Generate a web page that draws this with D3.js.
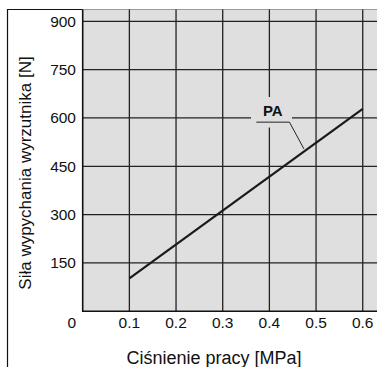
<!DOCTYPE html>
<html><head><meta charset="utf-8">
<script src="https://cdn.jsdelivr.net/npm/d3@7"></script>
<style>html,body{margin:0;padding:0;background:#fff;overflow:hidden}</style>
</head><body>
<svg id="c" width="377" height="367"></svg>
<script>
const pressure = [0.1, 0.6];
const force = [102, 628];
const xTicks = [0.1, 0.2, 0.3, 0.4, 0.5, 0.6];
const yTicks = [150, 300, 450, 600, 750, 900];
const seriesName = "PA";
const xTitle = "Ciśnienie pracy [MPa]";
const yTitle = "Siła wypychania wyrzutnika [N]";

const svg = d3.select("#c");
const font = "'Liberation Sans', Arial, Helvetica, sans-serif";
const x = d3.scaleLinear().domain([0, 0.631]).range([82.7, 377.2]);
const y = d3.scaleLinear().domain([0, 900]).range([311.3, 21.3]);
const plotTop = 9.5;

// outer frame
svg.append("line").attr("x1", 7.5).attr("x2", 83).attr("y1", 9.5).attr("y2", 9.5)
  .attr("stroke", "#111").attr("stroke-width", 1.2);
svg.append("line").attr("x1", 7.5).attr("x2", 7.5).attr("y1", 9).attr("y2", 367)
  .attr("stroke", "#111").attr("stroke-width", 1.2);

// plot background
svg.append("rect").attr("x", x(0)).attr("y", plotTop)
  .attr("width", x.range()[1] - x(0)).attr("height", y(0) - plotTop)
  .attr("fill", "#dfdfdf");
svg.append("line").attr("x1", x(0)).attr("x2", 377).attr("y1", plotTop).attr("y2", plotTop)
  .attr("stroke", "#999").attr("stroke-width", 1);

// grid
const g = svg.append("g").attr("stroke", "#222").attr("stroke-width", 1.3);
g.selectAll(".v").data(xTicks).join("line")
  .attr("x1", d => x(d)).attr("x2", d => x(d)).attr("y1", plotTop).attr("y2", y(0));
g.selectAll(".h").data(yTicks).join("line")
  .attr("x1", x(0)).attr("x2", 377).attr("y1", d => y(d)).attr("y2", d => y(d));

// axes lines
svg.append("line").attr("x1", x(0)).attr("x2", x(0)).attr("y1", plotTop).attr("y2", y(0) + 0.7)
  .attr("stroke", "#111").attr("stroke-width", 1.6);
svg.append("line").attr("x1", x(0) - 0.7).attr("x2", 377).attr("y1", y(0)).attr("y2", y(0))
  .attr("stroke", "#111").attr("stroke-width", 1.6);

// label mask
const lab = {x: 0.4, y: 622};
svg.append("rect").attr("x", 251).attr("y", 97).attr("width", 41).attr("height", 30.5)
  .attr("fill", "#dfdfdf");

// data line
const line = d3.line().x((d, i) => x(pressure[i])).y(d => y(d));
svg.append("path").datum(force).attr("d", line)
  .attr("fill", "none").attr("stroke", "#1a1a1a").attr("stroke-width", 2.2);

// annotation
svg.append("text").attr("x", x(lab.x) + 3.4).attr("y", y(lab.y))
  .attr("text-anchor", "middle").attr("dominant-baseline", "central")
  .attr("font-family", font).attr("font-weight", "bold").attr("font-size", 15)
  .attr("fill", "#111").text(seriesName);
const leader = [[0.372, 587], [0.443, 587], [0.474, 504]];
svg.append("path").datum(leader)
  .attr("d", d3.line().x(d => x(d[0])).y(d => y(d[1])))
  .attr("fill", "none").attr("stroke", "#222").attr("stroke-width", 1);

// tick labels
svg.selectAll(".yl").data(yTicks).join("text")
  .attr("x", 76).attr("y", d => y(d)).attr("text-anchor", "end")
  .attr("dominant-baseline", "central").attr("font-family", font).attr("font-size", 15.5)
  .attr("fill", "#111").text(d => d);
svg.append("text").attr("x", 76).attr("y", 322).attr("text-anchor", "end")
  .attr("dominant-baseline", "central").attr("font-family", font).attr("font-size", 15.5)
  .attr("fill", "#111").text("0");
svg.selectAll(".xl").data(xTicks).join("text")
  .attr("x", d => x(d)).attr("y", 322).attr("text-anchor", "middle")
  .attr("dominant-baseline", "central").attr("font-family", font).attr("font-size", 15.5)
  .attr("fill", "#111").text(d => d.toFixed(1));

// titles
svg.append("text").attr("x", 214).attr("y", 358).attr("text-anchor", "middle")
  .attr("dominant-baseline", "central").attr("font-family", font).attr("font-size", 18)
  .attr("fill", "#111").text(xTitle);
svg.append("text").attr("transform", "translate(25,173) rotate(-90)")
  .attr("text-anchor", "middle").attr("dominant-baseline", "central")
  .attr("font-family", font).attr("font-size", 17).attr("fill", "#111").text(yTitle);
</script>
</body></html>
